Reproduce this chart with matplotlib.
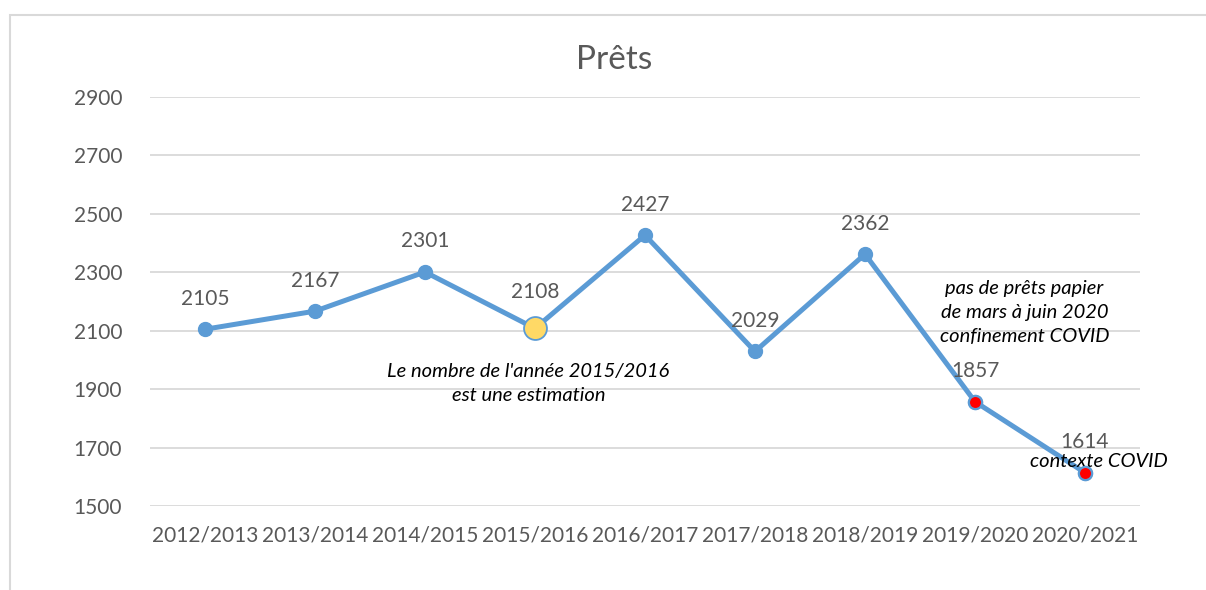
import matplotlib.pyplot as plt
from matplotlib.patches import Rectangle

# données
years = ['2012/2013', '2013/2014', '2014/2015', '2015/2016', '2016/2017',
         '2017/2018', '2018/2019', '2019/2020', '2020/2021']
prets = [2105, 2167, 2301, 2108, 2427, 2029, 2362, 1857, 1614]
yticks = [1500, 1700, 1900, 2100, 2300, 2500, 2700, 2900]

blue = '#5B9BD5'
grey = '#595959'
plt.rcParams['font.family'] = ['Lato', 'DejaVu Sans']

fig = plt.figure(figsize=(12.06, 5.9), dpi=100)
ax = fig.add_axes([150 / 1206, 1 - 506 / 590, 990 / 1206, 409 / 590])

# cadre du graphique
fig.add_artist(Rectangle((10 / 1206, -0.1), 1.2, 1 - 15 / 590 + 0.1,
                         transform=fig.transFigure, fill=False,
                         edgecolor='#D9D9D9', linewidth=1.5))

x = list(range(len(years)))
ax.plot(x, prets, color=blue, linewidth=3.6, marker='o', markersize=10,
        markerfacecolor=blue, markeredgecolor=blue, zorder=3)
# estimation 2015/2016
ax.plot(x[3], prets[3], marker='o', markersize=16.5, markerfacecolor='#FFD966',
        markeredgecolor=blue, markeredgewidth=1.3, zorder=4)
# contexte COVID
ax.plot(x[7:], prets[7:], linestyle='none', marker='o', markersize=9.5,
        markerfacecolor='#FF0000', markeredgecolor=blue, markeredgewidth=1.6, zorder=4)

for i, v in enumerate(prets):
    off = 26 if i == 3 else 22
    ax.annotate(str(v), (i, v), xytext=(0, off), textcoords='offset points',
                ha='center', va='center', fontsize=15, color=grey)

ax.text(2.94, 1921, "Le nombre de l'année 2015/2016\nest une estimation",
        ha='center', va='center', fontsize=14.5, style='italic', color='black',
        linespacing=1.5)
ax.text(7.45, 2164, "pas de prêts papier\nde mars à juin 2020\nconfinement COVID",
        ha='center', va='center', fontsize=14.5, style='italic', color='black',
        linespacing=1.5)
ax.text(8.13, 1653, "contexte COVID", ha='center', va='center', fontsize=14.5,
        style='italic', color='black')

ax.set_xlim(-0.5, 8.5)
ax.set_ylim(1500, 2900)
ax.set_yticks(yticks)
ax.set_xticks(x)
ax.set_xticklabels(years)
ax.tick_params(length=0, labelsize=15, labelcolor=grey, pad=14)
ax.tick_params(axis='y', pad=20)
ax.grid(axis='y', color='#D9D9D9', linewidth=1.3)
ax.set_axisbelow(True)
for s in ax.spines.values():
    s.set_visible(False)

fig.text(614 / 1206, 1 - 60 / 590, 'Prêts', ha='center', va='center',
         fontsize=24, color=grey)

fig.savefig('out.png', dpi=100)
